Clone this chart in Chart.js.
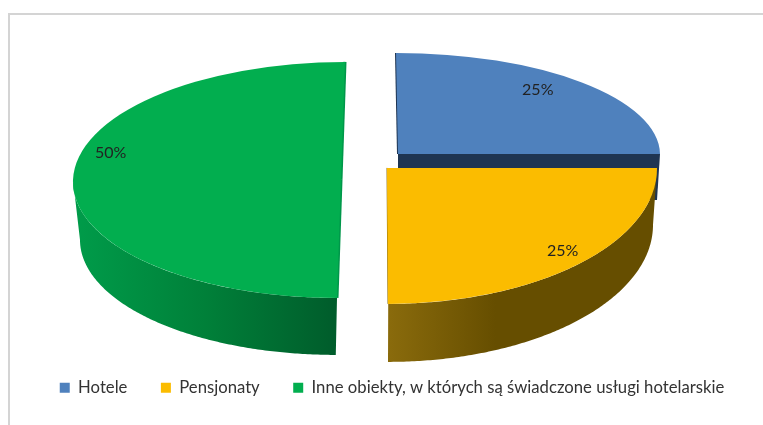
<!DOCTYPE html>
<html>
<head>
<meta charset="utf-8">
<style>
  html, body { margin: 0; padding: 0; background: #fff; overflow: hidden; }
  #box { position: relative; width: 763px; height: 425px; }
  #frame { position: absolute; left: 8px; top: 13px; right: 0; bottom: 0; border-left: 2px solid #d4d4d4; border-top: 2px solid #d4d4d4; }
  canvas { position: absolute; left: 0; top: 0; }
</style>
<script src="https://cdn.jsdelivr.net/npm/chart.js@4"></script>
</head>
<body>
<div id="box">
  <div id="frame"></div>
  <canvas id="pie" width="763" height="425"></canvas>
</div>
<script>
const categories = ['Hotele', 'Pensjonaty', 'Inne obiekty, w których są świadczone usługi hotelarskie'];
const shares = [25, 25, 50];
const topColors = ['#4f81bd', '#fbbc00', '#02ae4f'];

// how each slice is pushed and squashed to look 3d, relative to the pie centre
const shiftX = [6, -5, -51];
const shiftY = [-19, -5, 7];
const radiusX = [262, 270, 268];
const radiusY = [101, 136, 118];
const skew = [2, 1, -4];

// lower rim of the slices
const lowShiftX = [6, -4, -56];
const lowShiftY = [27, 52, 67];
const lowRadiusX = [259, 265, 256];
const lowRadiusY = [101, 137, 115];

const wallFrom = ['#1f3552', '#8a6b0c', '#009c4a'];
const wallMid = ['#1f3552', '#664e00', '#008039'];
const wallTo = ['#1f3552', '#664e00', '#005c2b'];
const edgeColors = ['#1f3552', '#8a6b0c', '#00974a'];

const labelRadius = [0.83, 0.89, 0.89];
const labelAngle = [-50, 43, 195];

function rimPoint(i, arc, angle, low) {
    if (low) {
        return {
            x: arc.x + lowShiftX[i] + lowRadiusX[i] * Math.cos(angle),
            y: arc.y + lowShiftY[i] + lowRadiusY[i] * Math.sin(angle)
        };
    }
    return {
        x: arc.x + shiftX[i] + radiusX[i] * Math.cos(angle) + skew[i] * Math.sin(angle),
        y: arc.y + shiftY[i] + radiusY[i] * Math.sin(angle)
    };
}

function drawWall(ctx, i, arc) {
    let from = Math.max(arc.startAngle, 0);
    let to = Math.min(arc.endAngle, Math.PI);
    if (to <= from) return;
    let points = [];
    for (let a = from; a <= to; a += 0.01) points.push(rimPoint(i, arc, a, false));
    for (let a = to; a >= from; a -= 0.01) points.push(rimPoint(i, arc, a, true));
    let xs = points.map(p => p.x);
    let gradient = ctx.createLinearGradient(Math.min(...xs), 0, Math.max(...xs), 0);
    gradient.addColorStop(0, wallFrom[i]);
    gradient.addColorStop(i == 2 ? 0.5 : 0.4, wallMid[i]);
    gradient.addColorStop(1, wallTo[i]);
    ctx.fillStyle = gradient;
    ctx.beginPath();
    points.forEach(p => ctx.lineTo(p.x, p.y));
    ctx.closePath();
    ctx.fill();
}

// the flat cut side of the blue slice, seen between blue and yellow
function drawCutFace(ctx, i, arc) {
    let inner = { x: arc.x + shiftX[i], y: arc.y + shiftY[i] };
    let innerLow = { x: arc.x + lowShiftX[i], y: arc.y + lowShiftY[i] };
    let outer = rimPoint(i, arc, arc.endAngle, false);
    let outerLow = rimPoint(i, arc, arc.endAngle, true);
    ctx.fillStyle = wallFrom[i];
    ctx.beginPath();
    ctx.moveTo(inner.x, inner.y);
    ctx.lineTo(outer.x, outer.y);
    ctx.lineTo(outerLow.x, outerLow.y);
    ctx.lineTo(innerLow.x, innerLow.y);
    ctx.closePath();
    ctx.fill();
}

function drawEdge(ctx, i, arc, angle, width) {
    let outer = rimPoint(i, arc, angle, false);
    ctx.strokeStyle = edgeColors[i];
    ctx.lineWidth = width;
    ctx.beginPath();
    ctx.moveTo(arc.x + shiftX[i], arc.y + shiftY[i]);
    ctx.lineTo(outer.x, outer.y);
    ctx.stroke();
}

function drawTop(ctx, i, arc) {
    let r = arc.outerRadius;
    ctx.save();
    ctx.translate(arc.x + shiftX[i], arc.y + shiftY[i]);
    ctx.transform(radiusX[i] / r, 0, skew[i] / r, radiusY[i] / r, 0, 0);
    ctx.translate(-arc.x, -arc.y);
    arc.draw(ctx);
    ctx.restore();
}

const pie3d = {
    id: 'pie3d',
    beforeDatasetDraw(chart, args) {
        let ctx = chart.ctx;
        args.meta.data.forEach((arc, i) => {
            drawWall(ctx, i, arc);
            if (i == 0) {
                drawCutFace(ctx, i, arc);
                drawEdge(ctx, i, arc, arc.startAngle, 2);
            }
            if (i == 1) drawEdge(ctx, i, arc, arc.endAngle, 1);
            if (i == 2) {
                drawEdge(ctx, i, arc, arc.startAngle, 3);
                drawEdge(ctx, i, arc, arc.endAngle, 3);
            }
            drawTop(ctx, i, arc);
        });
        return false;
    },
    afterDatasetsDraw(chart) {
        let ctx = chart.ctx;
        let total = shares.reduce((a, b) => a + b, 0);
        ctx.save();
        ctx.font = '16px Lato';
        ctx.fillStyle = '#222';
        ctx.textAlign = 'center';
        ctx.textBaseline = 'middle';
        chart.getDatasetMeta(0).data.forEach((arc, i) => {
            let a = labelAngle[i] * Math.PI / 180;
            let x = arc.x + shiftX[i] + radiusX[i] * labelRadius[i] * Math.cos(a);
            let y = arc.y + shiftY[i] + radiusY[i] * labelRadius[i] * Math.sin(a);
            ctx.fillText(Math.round(shares[i] / total * 100) + '%', x, y);
        });
        ctx.restore();
    }
};

new Chart(document.getElementById('pie'), {
    type: 'pie',
    data: {
        labels: categories,
        datasets: [{
            data: shares,
            backgroundColor: topColors,
            borderWidth: 0,
            clip: false
        }]
    },
    options: {
        responsive: false,
        animation: false,
        layout: { padding: { left: 21, bottom: 19 } },
        plugins: {
            tooltip: { enabled: false },
            legend: {
                position: 'bottom',
                labels: {
                    boxWidth: 10,
                    boxHeight: 10,
                    padding: 33.5,
                    color: '#333',
                    font: { family: 'Lato', size: 16.7 }
                }
            }
        }
    },
    plugins: [pie3d]
});
</script>
</body>
</html>
